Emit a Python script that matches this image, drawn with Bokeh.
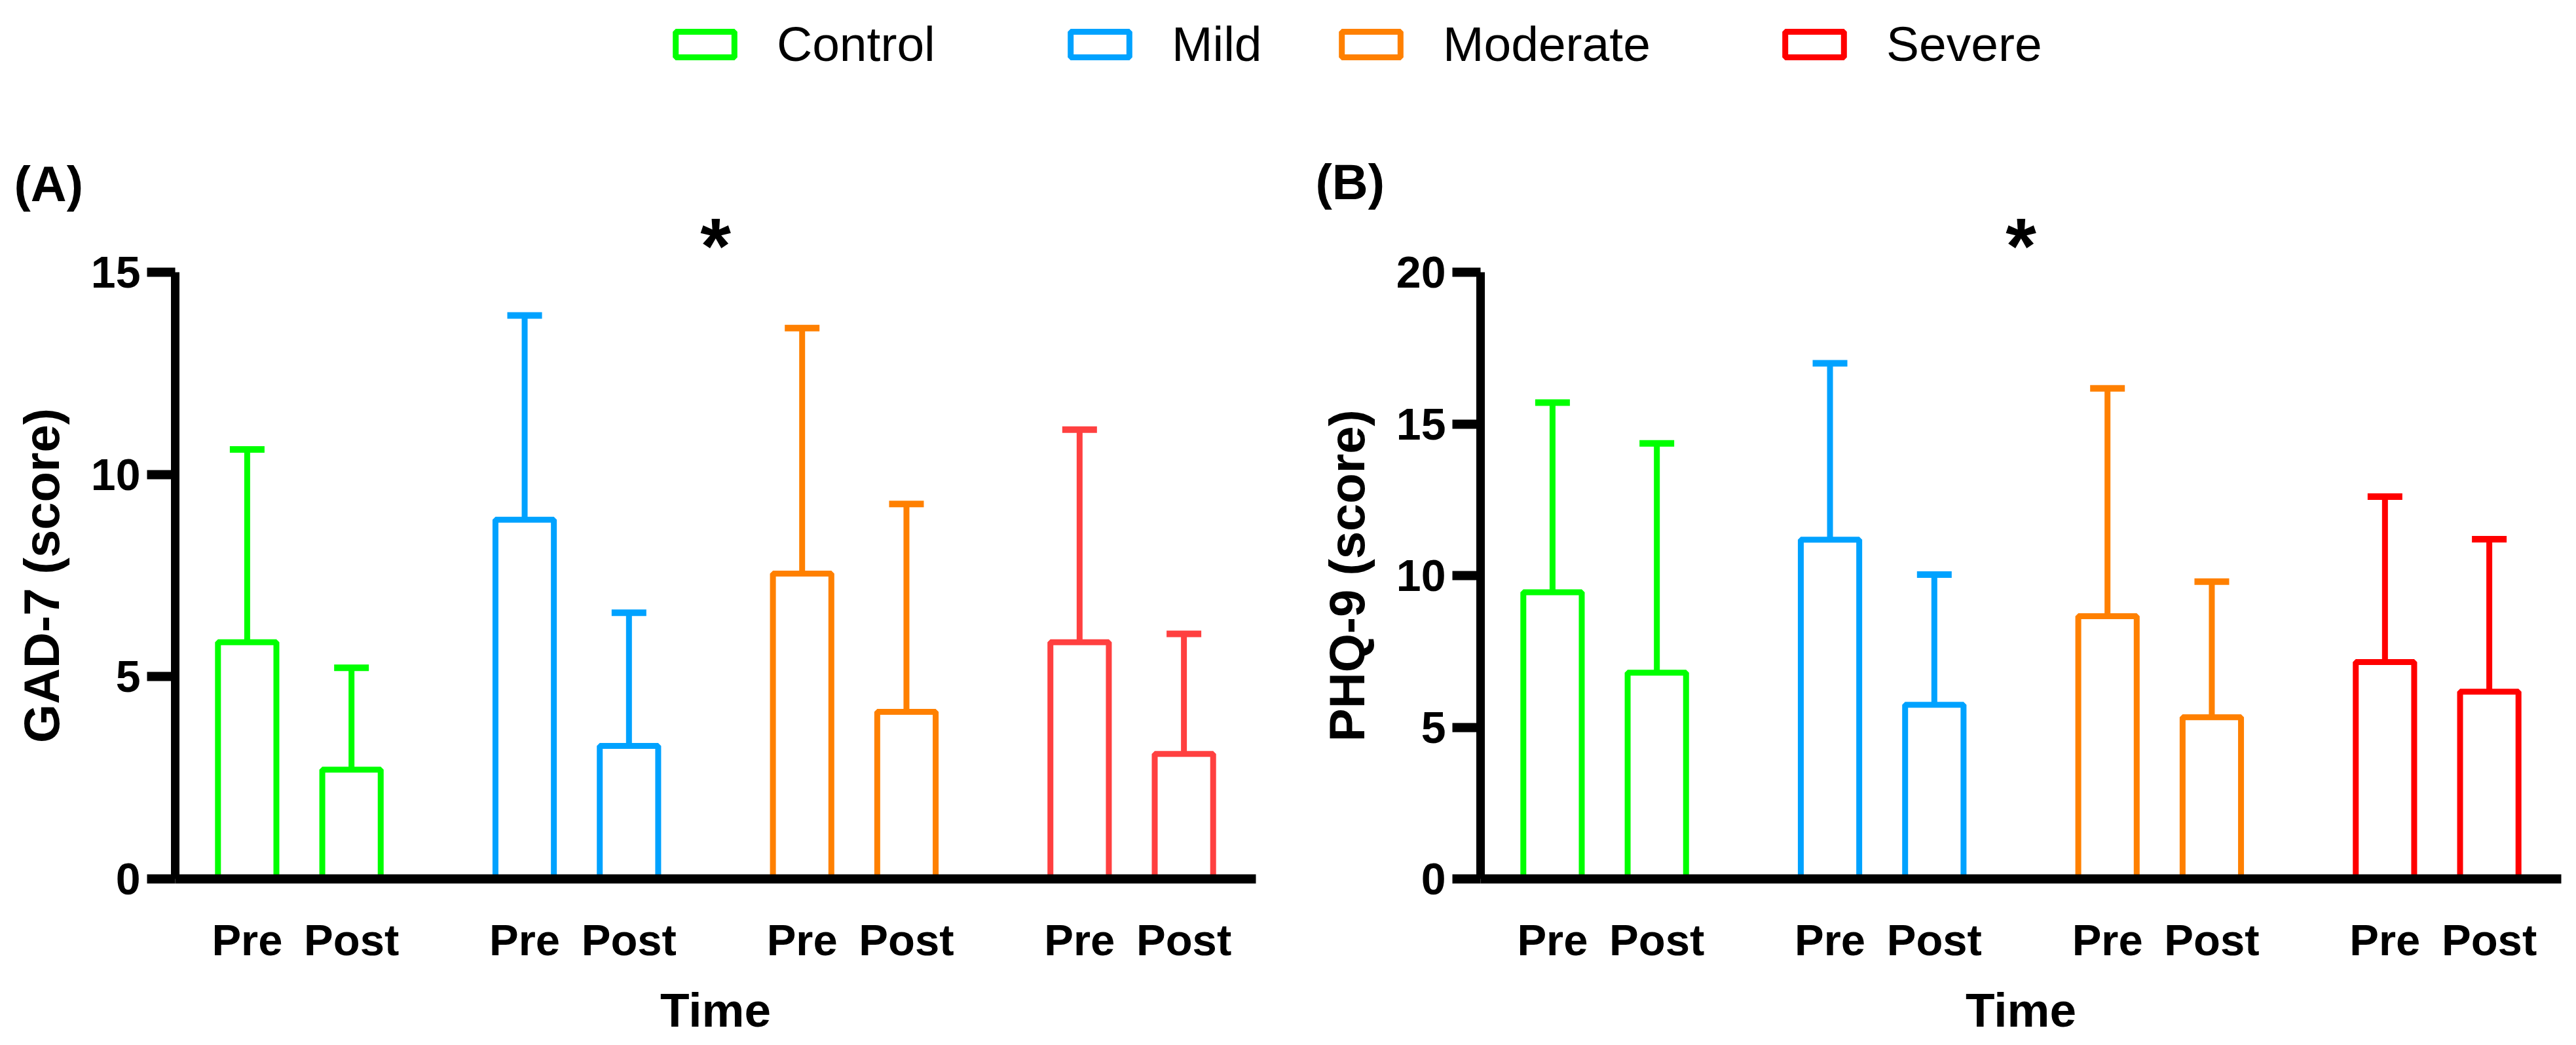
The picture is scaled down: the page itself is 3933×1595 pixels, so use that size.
from bokeh.plotting import figure
from bokeh.models import (FactorRange, Range1d, FixedTicker, ColumnDataSource,
                          Whisker, TeeHead, Label, Legend, LegendItem)
from bokeh.layouts import column, row
from bokeh.embed import file_html
from bokeh.resources import INLINE

# ---------------- data ----------------
groups = ["Control", "Mild", "Moderate", "Severe"]
times = ["Pre", "Post"]

gad7_pre_mean = [5.85, 8.88, 7.55, 5.85]
gad7_pre_sd = [4.77, 5.05, 6.07, 5.26]
gad7_post_mean = [2.70, 3.29, 4.13, 3.09]
gad7_post_sd = [2.52, 3.29, 5.14, 2.97]

phq9_pre_mean = [9.45, 11.18, 8.66, 7.15]
phq9_pre_sd = [6.25, 5.82, 7.51, 5.45]
phq9_post_mean = [6.80, 5.74, 5.33, 6.17]
phq9_post_sd = [7.56, 4.29, 4.47, 5.03]

gad7_ticks = [0, 5, 10, 15]
phq9_ticks = [0, 5, 10, 15, 20]

# ---------------- styles / layout ----------------
FONT = "Liberation Sans"
colors_a = ["#00FF00", "#00A2FF", "#FF8000", "#FF4040"]
colors_b = ["#00FF00", "#00A2FF", "#FF8000", "#FF0000"]
LEGEND_X = [1020, 1623, 2037, 2714]

STRIP_H = 331            # top strip: legend and panel tags
BORDER_TOP = 84
FRAME_H = 929
BORDER_BOTTOM = 240
FRAME_W = 1650
PANEL_H = BORDER_TOP + FRAME_H + BORDER_BOTTOM
A_LEFT, A_RIGHT = 267, 43
B_LEFT, B_RIGHT = 300, 15


def make_panel(pre_mean, pre_sd, post_mean, post_sd, ticks, ylabel, colors,
               border_left, border_right):
    factors = [(g, t) for g in groups for t in times]
    xr = FactorRange(*factors, factor_padding=0.0, group_padding=0.66,
                     range_padding=0.19, range_padding_units="absolute")
    p = figure(x_range=xr, y_range=Range1d(ticks[0], ticks[-1]),
               width=border_left + FRAME_W + border_right, height=PANEL_H,
               min_border_left=border_left, min_border_right=border_right,
               min_border_top=BORDER_TOP, min_border_bottom=BORDER_BOTTOM,
               output_backend="svg", toolbar_location=None,
               x_axis_label="Time", y_axis_label=ylabel)
    p.grid.visible = False
    p.outline_line_color = None

    # significance marker as the panel title
    p.title.text = "*"
    p.title.align = "center"
    p.title.vertical_align = "bottom"
    p.title.text_font = FONT
    p.title.text_font_size = "120px"
    p.title.text_font_style = "bold"
    p.title.text_color = "black"
    p.title.standoff = -52

    xs, tops, cols = [], [], []
    for i, g in enumerate(groups):
        for t, m in zip(times, (pre_mean[i], post_mean[i])):
            xs.append((g, t))
            tops.append(m)
            cols.append(colors[i])
    src = ColumnDataSource(dict(x=xs, top=tops, color=cols))
    p.vbar(x="x", top="top", width=0.56, source=src, fill_color=None,
           line_color="color", line_width=9)

    for i, g in enumerate(groups):
        wsrc = ColumnDataSource(dict(
            base=[(g, t) for t in times],
            lower=[pre_mean[i], post_mean[i]],
            upper=[pre_mean[i] + pre_sd[i], post_mean[i] + post_sd[i]]))
        w = Whisker(source=wsrc, base="base", lower="lower", upper="upper",
                    dimension="height", line_color=colors[i], line_width=9,
                    lower_head=None,
                    upper_head=TeeHead(size=53, line_color=colors[i], line_width=10))
        p.add_layout(w)

    yax = p.yaxis[0]
    yax.ticker = FixedTicker(ticks=ticks)
    yax.axis_line_width = 13
    yax.axis_line_color = "black"
    yax.major_tick_line_width = 14
    yax.major_tick_line_color = "black"
    yax.major_tick_out = 43
    yax.major_tick_in = 0
    yax.minor_tick_line_color = None
    yax.major_label_text_font = FONT
    yax.major_label_text_font_size = "68px"
    yax.major_label_text_font_style = "bold"
    yax.major_label_text_color = "black"
    yax.major_label_standoff = 10
    yax.axis_label_text_font = FONT
    yax.axis_label_text_font_size = "76px"
    yax.axis_label_text_font_style = "bold"
    yax.axis_label_text_color = "black"
    yax.axis_label_standoff = 30

    xax = p.xaxis[0]
    xax.axis_line_width = 14
    xax.axis_line_color = "black"
    xax.major_tick_line_color = None
    xax.major_tick_out = 0
    xax.major_tick_in = 0
    xax.minor_tick_line_color = None
    xax.major_label_text_font = FONT
    xax.major_label_text_font_size = "67px"
    xax.major_label_text_font_style = "bold"
    xax.major_label_text_color = "black"
    xax.major_label_standoff = 55
    xax.group_text_color = None
    xax.group_text_font_size = "1px"
    xax.separator_line_color = None
    xax.axis_label_text_font = FONT
    xax.axis_label_text_font_size = "73px"
    xax.axis_label_text_font_style = "bold"
    xax.axis_label_text_color = "black"
    xax.axis_label_standoff = 26
    return p


pa = make_panel(gad7_pre_mean, gad7_pre_sd, gad7_post_mean, gad7_post_sd,
                gad7_ticks, "GAD-7 (score)", colors_a, A_LEFT, A_RIGHT)
pb = make_panel(phq9_pre_mean, phq9_pre_sd, phq9_post_mean, phq9_post_sd,
                phq9_ticks, "PHQ-9 (score)", colors_b, B_LEFT, B_RIGHT)

# ---------------- top strip: legend and panel tags ----------------
lf = figure(width=pa.width + pb.width, height=STRIP_H,
            x_range=Range1d(0, 1), y_range=Range1d(0, 1),
            min_border=0, x_axis_location=None, y_axis_location=None,
            output_backend="svg", toolbar_location=None)
lf.grid.visible = False
lf.outline_line_color = None
nan = float("nan")
for g, c, lx in zip(groups, colors_b, LEGEND_X):
    # legend proxy renderer (no drawable coordinates)
    r = lf.vbar(x=[nan], bottom=[nan], top=[nan], width=0.1, fill_color=None,
                line_color=c, line_width=9)
    lg = Legend(items=[LegendItem(label=g, renderers=[r])], location=(lx, 221),
                orientation="horizontal", glyph_width=112, glyph_height=49,
                label_standoff=54, label_text_font=FONT, label_text_font_size="75px",
                label_text_color="black",
                padding=0, margin=0, spacing=0, border_line_color=None,
                background_fill_alpha=0)
    lf.add_layout(lg)

for tag, tx, ty in (("(A)", 21, 51), ("(B)", 2008, 54)):
    lf.add_layout(Label(x=tx, y=ty, x_units="screen", y_units="screen",
                        text=tag, text_align="left", text_baseline="alphabetic",
                        text_font=FONT, text_font_size="76px", text_font_style="bold",
                        text_color="black"))

layout = column(lf, row(pa, pb))
open("out.html", "w").write(file_html(layout, INLINE))
